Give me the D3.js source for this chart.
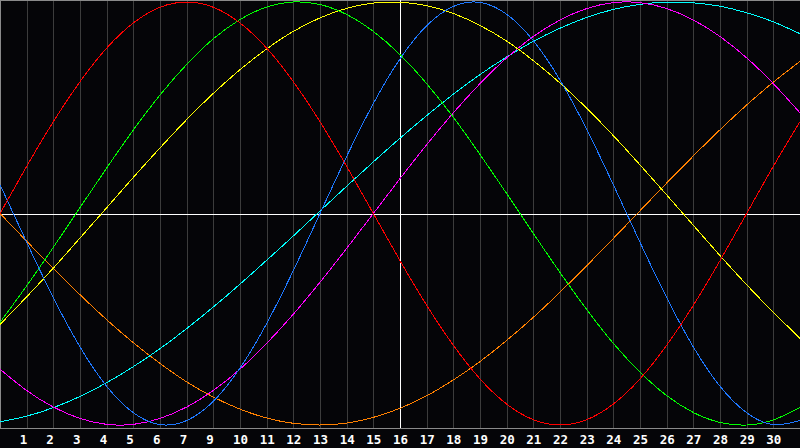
<!DOCTYPE html>
<html><head><meta charset="utf-8">
<script src="https://cdn.jsdelivr.net/npm/d3@7"></script>
<style>
html,body{margin:0;padding:0;background:#050508;overflow:hidden}
svg{display:block}
</style></head>
<body>
<svg id="chart" width="800" height="448"></svg>
<script>
// ---- data (values in percent, read at each day gridline) ----
const days = [0,1,2,3,4,5,6,7,8,9,10,11,12,13,14,15,16,17,18,19,20,21,22,23,24,25,26,27,28,29,30];
const tickLabels = ["1","2","3","4","5","6","7","9","10","11","12","13","14","15","16","17","18","19","20","21","22","23","24","25","26","27","28","29","30"];
const redValues     = [0,22.3,43.4,62.3,78.2,90.1,97.5,100,97.5,90.1,78.2,62.3,43.4,22.3,0,-22.3,-43.4,-62.3,-78.2,-90.1,-97.5,-100,-97.5,-90.1,-78.2,-62.3,-43.4,-22.3,0,22.3,43.4];
const greenValues   = [-51.5,-34.2,-16.0,2.8,21.5,39.5,56.0,70.5,82.6,91.7,97.6,100,98.8,94.1,86.1,75.1,61.4,45.5,27.9,9.4,-9.4,-27.9,-45.4,-61.4,-75.0,-86.1,-94.1,-98.8,-100,-97.6,-91.7];
const yellowValues  = [-52.5,-39.4,-25.8,-11.6,2.7,17.1,31.0,44.4,56.8,68.0,77.8,86.1,92.5,97.0,99.5,99.9,98.3,94.6,88.9,81.5,72.3,61.7,49.8,36.8,23.0,8.8,-5.6,-19.9,-33.7,-46.7,-59.0];
const blueValues    = [13.6,-13.6,-39.8,-63.1,-81.7,-94.2,-99.8,-97.9,-88.8,-73.1,-52.0,-27.0,0,27.0,52.0,73.1,88.8,97.9,99.8,94.2,81.7,63.1,39.8,13.6,-13.6,-39.8,-63.1,-81.7,-94.2,-99.8,-97.9];
const magentaValues = [-73.6,-83.7,-91.5,-96.9,-99.7,-99.7,-96.9,-91.5,-83.7,-73.6,-61.4,-47.6,-32.5,-16.5,0,16.5,32.5,47.6,61.4,73.6,83.7,91.5,96.9,99.7,99.7,96.9,91.5,83.7,73.6,61.4,47.6];
const cyanValues    = [-98.5,-95.8,-91.8,-86.5,-80.0,-72.4,-63.9,-54.4,-44.2,-33.4,-22.1,-10.6,1.2,12.9,24.4,35.6,46.3,56.4,65.7,74.0,81.4,87.6,92.7,96.5,98.9,99.9,99.6,98.0,94.9,90.6,85.0];
const orangeValues  = [0,-13.1,-26.0,-38.4,-50.2,-61.1,-70.9,-79.6,-86.8,-92.5,-96.7,-99.2,-100,-99.1,-96.4,-92.1,-86.2,-78.7,-70.0,-60.0,-49.1,-37.2,-24.7,-11.8,1.3,14.4,27.2,39.6,51.3,62.1,71.9];

const seriesNames  = ["orange","cyan","magenta","yellow","green","blue","red"];
const seriesData   = [orangeValues,cyanValues,magentaValues,yellowValues,greenValues,blueValues,redValues];
const seriesColors = ["#ff8000","#00ffff","#ff00ff","#ffff00","#00ff00","#1e78ff","#ff0000"];

// ---- drawing ----
const W = 800, H = 448;
const svg = d3.select("#chart");
const x = d3.scaleLinear().domain([0,30]).range([0,800]);
const y = d3.scaleLinear().domain([-100,100]).range([425,2]);
const axisY = 428;

svg.append("rect").attr("width",W).attr("height",H).attr("fill","#050508");

// vertical gridlines
svg.append("g").selectAll("line").data(days.slice(1,30)).join("line")
  .attr("x1",d=>Math.round(x(d))+0.5).attr("x2",d=>Math.round(x(d))+0.5)
  .attr("y1",0).attr("y2",axisY)
  .attr("stroke","#3c3c3c").attr("stroke-width",1).attr("shape-rendering","crispEdges");

// borders
const border = svg.append("g").attr("stroke","#8a8a8a").attr("stroke-width",1).attr("shape-rendering","crispEdges");
border.append("line").attr("x1",0).attr("x2",W).attr("y1",0.5).attr("y2",0.5);
border.append("line").attr("x1",0.5).attr("x2",0.5).attr("y1",0).attr("y2",axisY);
border.append("line").attr("x1",0).attr("x2",W).attr("y1",axisY+0.5).attr("y2",axisY+0.5);

// centre cross
const cross = svg.append("g").attr("stroke","#ffffff").attr("stroke-width",1).attr("shape-rendering","crispEdges");
cross.append("line").attr("x1",0).attr("x2",W).attr("y1",Math.round(y(0))+0.5).attr("y2",Math.round(y(0))+0.5);
cross.append("line").attr("x1",x(15)+0.5).attr("x2",x(15)+0.5).attr("y1",0).attr("y2",axisY);

// curves
const line = d3.line().x((d,i)=>x(days[i])).y(d=>y(d)).curve(d3.curveNatural);
svg.append("g").selectAll("path").data(seriesData).join("path")
  .attr("d",d=>line(d))
  .attr("fill","none")
  .attr("stroke",(d,i)=>seriesColors[i])
  .attr("stroke-width",1)
  .attr("shape-rendering","crispEdges");

// day labels
svg.append("g").selectAll("text").data(tickLabels).join("text")
  .attr("x",(d,i)=>x(days[i+1])-7)
  .attr("y",443.5)
  .attr("text-anchor","start")
  .attr("fill","#ffffff")
  .attr("font-family","'DejaVu Sans Mono', monospace")
  .attr("font-weight","bold")
  .attr("font-size","12.5px")
  .text(d=>d);
</script>
</body></html>
